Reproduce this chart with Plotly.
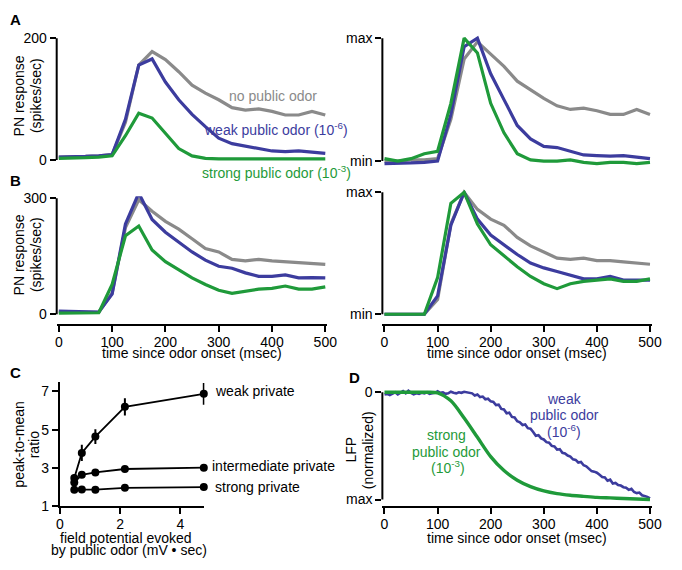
import plotly.graph_objects as go

W, H = 682, 570
GRAY = "#8a8a8a"
BLUE = "#3c3c9e"
GREEN = "#1f9a3a"
FONT = "Liberation Sans, Arial, sans-serif"

# ---------------- data ----------------
time_ms = [0, 25, 50, 75, 100, 125, 150, 175, 200, 225, 250, 275, 300,
           325, 350, 375, 400, 425, 450, 475, 500]

# Panel A, absolute (spikes/sec)
a_abs_none = [5, 5, 6, 7, 9, 62, 156, 178, 165, 145, 123, 110, 99, 86, 82, 84, 80, 74, 74, 80, 74]
a_abs_weak = [5, 5, 6, 7, 9, 67, 156, 166, 128, 99, 75, 55, 36, 27, 23, 18, 15, 14, 15, 13, 11]
a_abs_strong = [3, 3, 4, 5, 7, 40, 77, 69, 43, 19, 7, 3, 2, 2, 2, 3, 2, 2, 2, 2, 2]

# Panel A, normalized (min..max)
a_norm_none = [0.0, 0.0, 0.01, 0.01, 0.02, 0.34, 0.83, 0.97, 0.87, 0.77, 0.65, 0.58, 0.51,
               0.45, 0.42, 0.43, 0.41, 0.38, 0.38, 0.42, 0.38]
a_norm_weak = [-0.02, -0.02, -0.015, -0.01, 0.0, 0.38, 0.93, 1.0, 0.71, 0.5, 0.29, 0.18, 0.12,
               0.11, 0.08, 0.05, 0.045, 0.04, 0.045, 0.035, 0.02]
a_norm_strong = [0.02, 0.0, 0.02, 0.06, 0.08, 0.47, 1.0, 0.88, 0.47, 0.23, 0.06, 0.01, 0.0,
                 0.0, 0.01, -0.01, -0.02, -0.01, -0.01, -0.02, -0.01]

# Panel B, absolute
b_abs_none = [6, 6, 5, 5, 55, 224, 296, 266, 240, 220, 195, 170, 161, 142, 138, 142, 138, 136, 134, 131, 129]
b_abs_weak = [8, 8, 7, 6, 52, 233, 313, 245, 212, 187, 161, 140, 124, 119, 107, 98, 98, 102, 94, 95, 94]
b_abs_strong = [3, 3, 4, 4, 77, 203, 228, 166, 136, 115, 94, 77, 62, 54, 60, 65, 67, 73, 65, 65, 71]

# Panel B, normalized
b_norm_none = [0, 0, 0, 0, 0.12, 0.74, 1.0, 0.86, 0.78, 0.73, 0.63, 0.56, 0.51, 0.46, 0.45,
               0.46, 0.44, 0.44, 0.43, 0.42, 0.41]
b_norm_weak = [0, 0, 0, 0, 0.15, 0.73, 1.0, 0.78, 0.65, 0.57, 0.49, 0.42, 0.38, 0.35, 0.32,
               0.29, 0.29, 0.31, 0.28, 0.28, 0.28]
b_norm_strong = [0, 0, 0, 0, 0.3, 0.91, 1.0, 0.74, 0.57, 0.48, 0.39, 0.31, 0.25, 0.21, 0.25,
                 0.27, 0.28, 0.29, 0.27, 0.27, 0.29]

# Panel C
c_field = [0.48, 0.73, 1.18, 2.16, 4.78]
c_weak = [2.48, 3.79, 4.64, 6.19, 6.87]
c_weak_err = [0.2, 0.42, 0.38, 0.45, 0.57]
c_inter = [2.25, 2.65, 2.77, 2.95, 3.02]
c_inter_err = [0.08, 0.08, 0.08, 0.15, 0.08]
c_strong = [1.87, 1.88, 1.87, 1.97, 2.01]
c_strong_err = [0.05, 0.05, 0.05, 0.06, 0.06]

# Panel D (normalized LFP, 0 = baseline, 1 = max)
d_green_time = [0, 25, 50, 75, 100, 125, 150, 175, 200, 225, 250, 275, 300, 325, 350,
                375, 400, 425, 450, 475, 500]
d_green = [0.0, 0.0, 0.0, 0.0, 0.005, 0.08, 0.24, 0.42, 0.6, 0.73, 0.82, 0.88, 0.92, 0.945,
           0.96, 0.97, 0.98, 0.985, 0.99, 0.995, 1.0]
d_blue_step_ms = 5
d_blue = [0.02, 0.015, 0.025, 0.01, 0.0, 0.02, 0.005, -0.01, 0.01, -0.015, 0.005, 0.02, 0.01,
          0.015, 0.005, 0.01, 0.0, 0.015, 0.01, 0.005, -0.01, 0.005, 0.0, 0.015, 0.01, -0.005,
          0.005, 0.01, 0.0, 0.005, -0.005, 0.0, 0.01,
          0.01, 0.03, 0.02, 0.045, 0.04, 0.065, 0.06, 0.085, 0.09, 0.12, 0.115, 0.155,
          0.16, 0.195, 0.19, 0.23, 0.235, 0.27, 0.28, 0.305, 0.3, 0.335, 0.34, 0.37,
          0.405, 0.4, 0.43, 0.44, 0.465, 0.47, 0.5, 0.505, 0.535, 0.53, 0.565, 0.57, 0.59,
          0.6, 0.625, 0.63, 0.655, 0.65, 0.68, 0.69, 0.71, 0.735, 0.74, 0.75,
          0.77, 0.79, 0.795, 0.825, 0.815, 0.85, 0.845, 0.865, 0.87, 0.885, 0.89,
          0.91, 0.9, 0.93, 0.94, 0.935, 0.96, 0.965, 0.975, 0.99]
d_blue_time = [i * d_blue_step_ms for i in range(len(d_blue))]

x_ticks_ms = [0, 100, 200, 300, 400, 500]


# ---------------- helpers (window pixels -> paper) ----------------
def pxx(x):
    return x / W


def pxy(y):
    return 1 - y / H


fig = go.Figure()


def line_trace(x, y, color, xa, ya, width=3.2):
    fig.add_trace(go.Scatter(x=x, y=y, mode="lines", line=dict(color=color, width=width),
                             xaxis=xa, yaxis=ya, showlegend=False, hoverinfo="skip"))


for xa, ya, series in [
    ("x", "y", (a_abs_none, a_abs_weak, a_abs_strong)),
    ("x2", "y2", (a_norm_none, a_norm_weak, a_norm_strong)),
    ("x3", "y3", (b_abs_none, b_abs_weak, b_abs_strong)),
    ("x4", "y4", (b_norm_none, b_norm_weak, b_norm_strong)),
]:
    for s, c in zip(series, (GRAY, BLUE, GREEN)):
        line_trace(time_ms, s, c, xa, ya)

# Panel C
for yv, err in [(c_weak, c_weak_err), (c_inter, c_inter_err), (c_strong, c_strong_err)]:
    fig.add_trace(go.Scatter(x=c_field, y=yv, mode="lines+markers",
                             line=dict(color="black", width=1.8),
                             marker=dict(color="black", size=8),
                             error_y=dict(type="data", array=err, color="black",
                                          thickness=2, width=0),
                             cliponaxis=False, xaxis="x5", yaxis="y5",
                             showlegend=False, hoverinfo="skip"))

# Panel D
line_trace(d_blue_time, d_blue, BLUE, "x6", "y6", width=2.6)
fig.add_trace(go.Scatter(x=d_green_time, y=d_green, mode="lines",
                         line=dict(color=GREEN, width=3.4, shape="spline", smoothing=0.8),
                         xaxis="x6", yaxis="y6", showlegend=False, hoverinfo="skip"))

# ---------------- axes ----------------
tickfont = dict(family=FONT, size=14, color="black")
common_x = dict(range=[-4, 504], tickvals=x_ticks_ms, ticks="outside", ticklen=6,
                tickwidth=2, tickcolor="black", showline=True, linecolor="black",
                linewidth=2, showgrid=False, zeroline=False, tickfont=tickfont,
                ticklabelstandoff=-2)
common_y = dict(ticks="outside", ticklen=6, tickwidth=2, tickcolor="black",
                showline=False, showgrid=False, zeroline=False, tickfont=tickfont)

L = [pxx(53.8), pxx(330.2)]
R = [pxx(386.3), pxx(661.7)]

layout = dict(
    width=W, height=H, margin=dict(l=0, r=0, t=0, b=0),
    paper_bgcolor="white", plot_bgcolor="white",
    font=dict(family=FONT, size=14, color="black"),
    xaxis=dict(common_x, domain=L, anchor="y", visible=False),
    yaxis=dict(common_y, domain=[pxy(160.5), pxy(30.5)], range=[-4, 204],
               tickvals=[0, 200], anchor="x"),
    xaxis2=dict(common_x, domain=R, anchor="y2", visible=False),
    yaxis2=dict(common_y, domain=[pxy(165.3), pxy(29.2)], range=[-0.05, 1.03],
                tickvals=[0, 1], ticktext=["min", "max"], anchor="x2"),
    xaxis3=dict(common_x, domain=L, anchor="y3"),
    yaxis3=dict(common_y, domain=[pxy(326), pxy(195)], range=[-25, 305],
                tickvals=[0, 300], anchor="x3"),
    xaxis4=dict(common_x, domain=R, anchor="y4"),
    yaxis4=dict(common_y, domain=[pxy(326), pxy(187.25)], range=[-0.08, 1.03],
                tickvals=[0, 1], ticktext=["min", "max"], anchor="x4"),
    xaxis5=dict(common_x, domain=[pxx(57), pxx(204.6)], range=[0, 4.8],
                tickvals=[0, 2, 4], anchor="y5"),
    yaxis5=dict(common_y, domain=[pxy(513), pxy(385.2)], range=[1, 7.5],
                tickvals=[1, 3, 5, 7], anchor="x5", showline=True, linecolor="black",
                linewidth=2),
    xaxis6=dict(common_x, domain=R, anchor="y6"),
    yaxis6=dict(common_y, domain=[pxy(513), pxy(391.6)], range=[1.064, -0.04],
                tickvals=[0, 1], ticktext=["0", "max"], anchor="x6"),
)
fig.update_layout(**layout)

# detached y-axis spines
spines = [("x", "y", 0, 200), ("x2", "y2", 0, 1), ("x3", "y3", 0, 300),
          ("x4", "y4", 0, 1), ("x6", "y6", 0, 1)]
for xa, ya, y0, y1 in spines:
    fig.add_shape(type="line", xref=f"{xa} domain", yref=ya, x0=0, x1=0, y0=y0, y1=y1,
                  line=dict(color="black", width=2))

# ---------------- text ----------------
ann = []


def text(x, y, s, color="black", size=14, xanchor="center", yanchor="middle",
         angle=0, bold=False):
    if bold:
        s = f"<b>{s}</b>"
    ann.append(dict(x=pxx(x), y=pxy(y), xref="paper", yref="paper", text=s,
                    showarrow=False, xanchor=xanchor, yanchor=yanchor, textangle=angle,
                    font=dict(family=FONT, size=size, color=color)))


# panel letters
text(12, 14, "A", size=15, bold=True)
text(12, 179, "B", size=15, bold=True)
text(12, 376, "C", size=15, bold=True)
text(358, 381, "D", size=15, bold=True)

# y titles
text(15, 92, "PN response", angle=-90)
text(32, 92, "(spikes/sec)", angle=-90)
text(15, 255, "PN response", angle=-90)
text(32, 255, "(spikes/sec)", angle=-90)
text(15, 450, "peak-to-mean", angle=-90)
text(31, 450, "ratio", angle=-90)
text(354, 455, "LFP", angle=-90)
text(371, 455, "(normalized)", angle=-90)

# x titles
text(192, 356, "time since odor onset (msec)")
text(524, 356, "time since odor onset (msec)")
text(524, 545, "time since odor onset (msec)")
text(125, 545, "field potential evoked")
text(128, 558, "by public odor (mV \u2022 sec)")

# panel A labels
text(228, 92, "no public odor", color=GRAY, xanchor="left")
text(202, 126, "weak public odor (10<sup>-6</sup>)", color=BLUE, xanchor="left")
text(200, 170, "strong public odor (10<sup>-3</sup>)", color=GREEN, xanchor="left")

# panel C labels
text(213, 395, "weak private", xanchor="left")
text(210, 472, "intermediate private", xanchor="left")
text(213, 493, "strong private", xanchor="left")

# panel D labels
text(572, 403, "weak", color=BLUE)
text(572, 419, "public odor", color=BLUE)
text(572, 436, "(10<sup>-6</sup>)", color=BLUE)
text(452, 440, "strong", color=GREEN)
text(452, 457, "public odor", color=GREEN)
text(453, 473, "(10<sup>-3</sup>)", color=GREEN)

fig.update_layout(annotations=ann)

fig.write_html("out.html", config={"displayModeBar": False},
               post_script="document.body.style.margin='0px';")
